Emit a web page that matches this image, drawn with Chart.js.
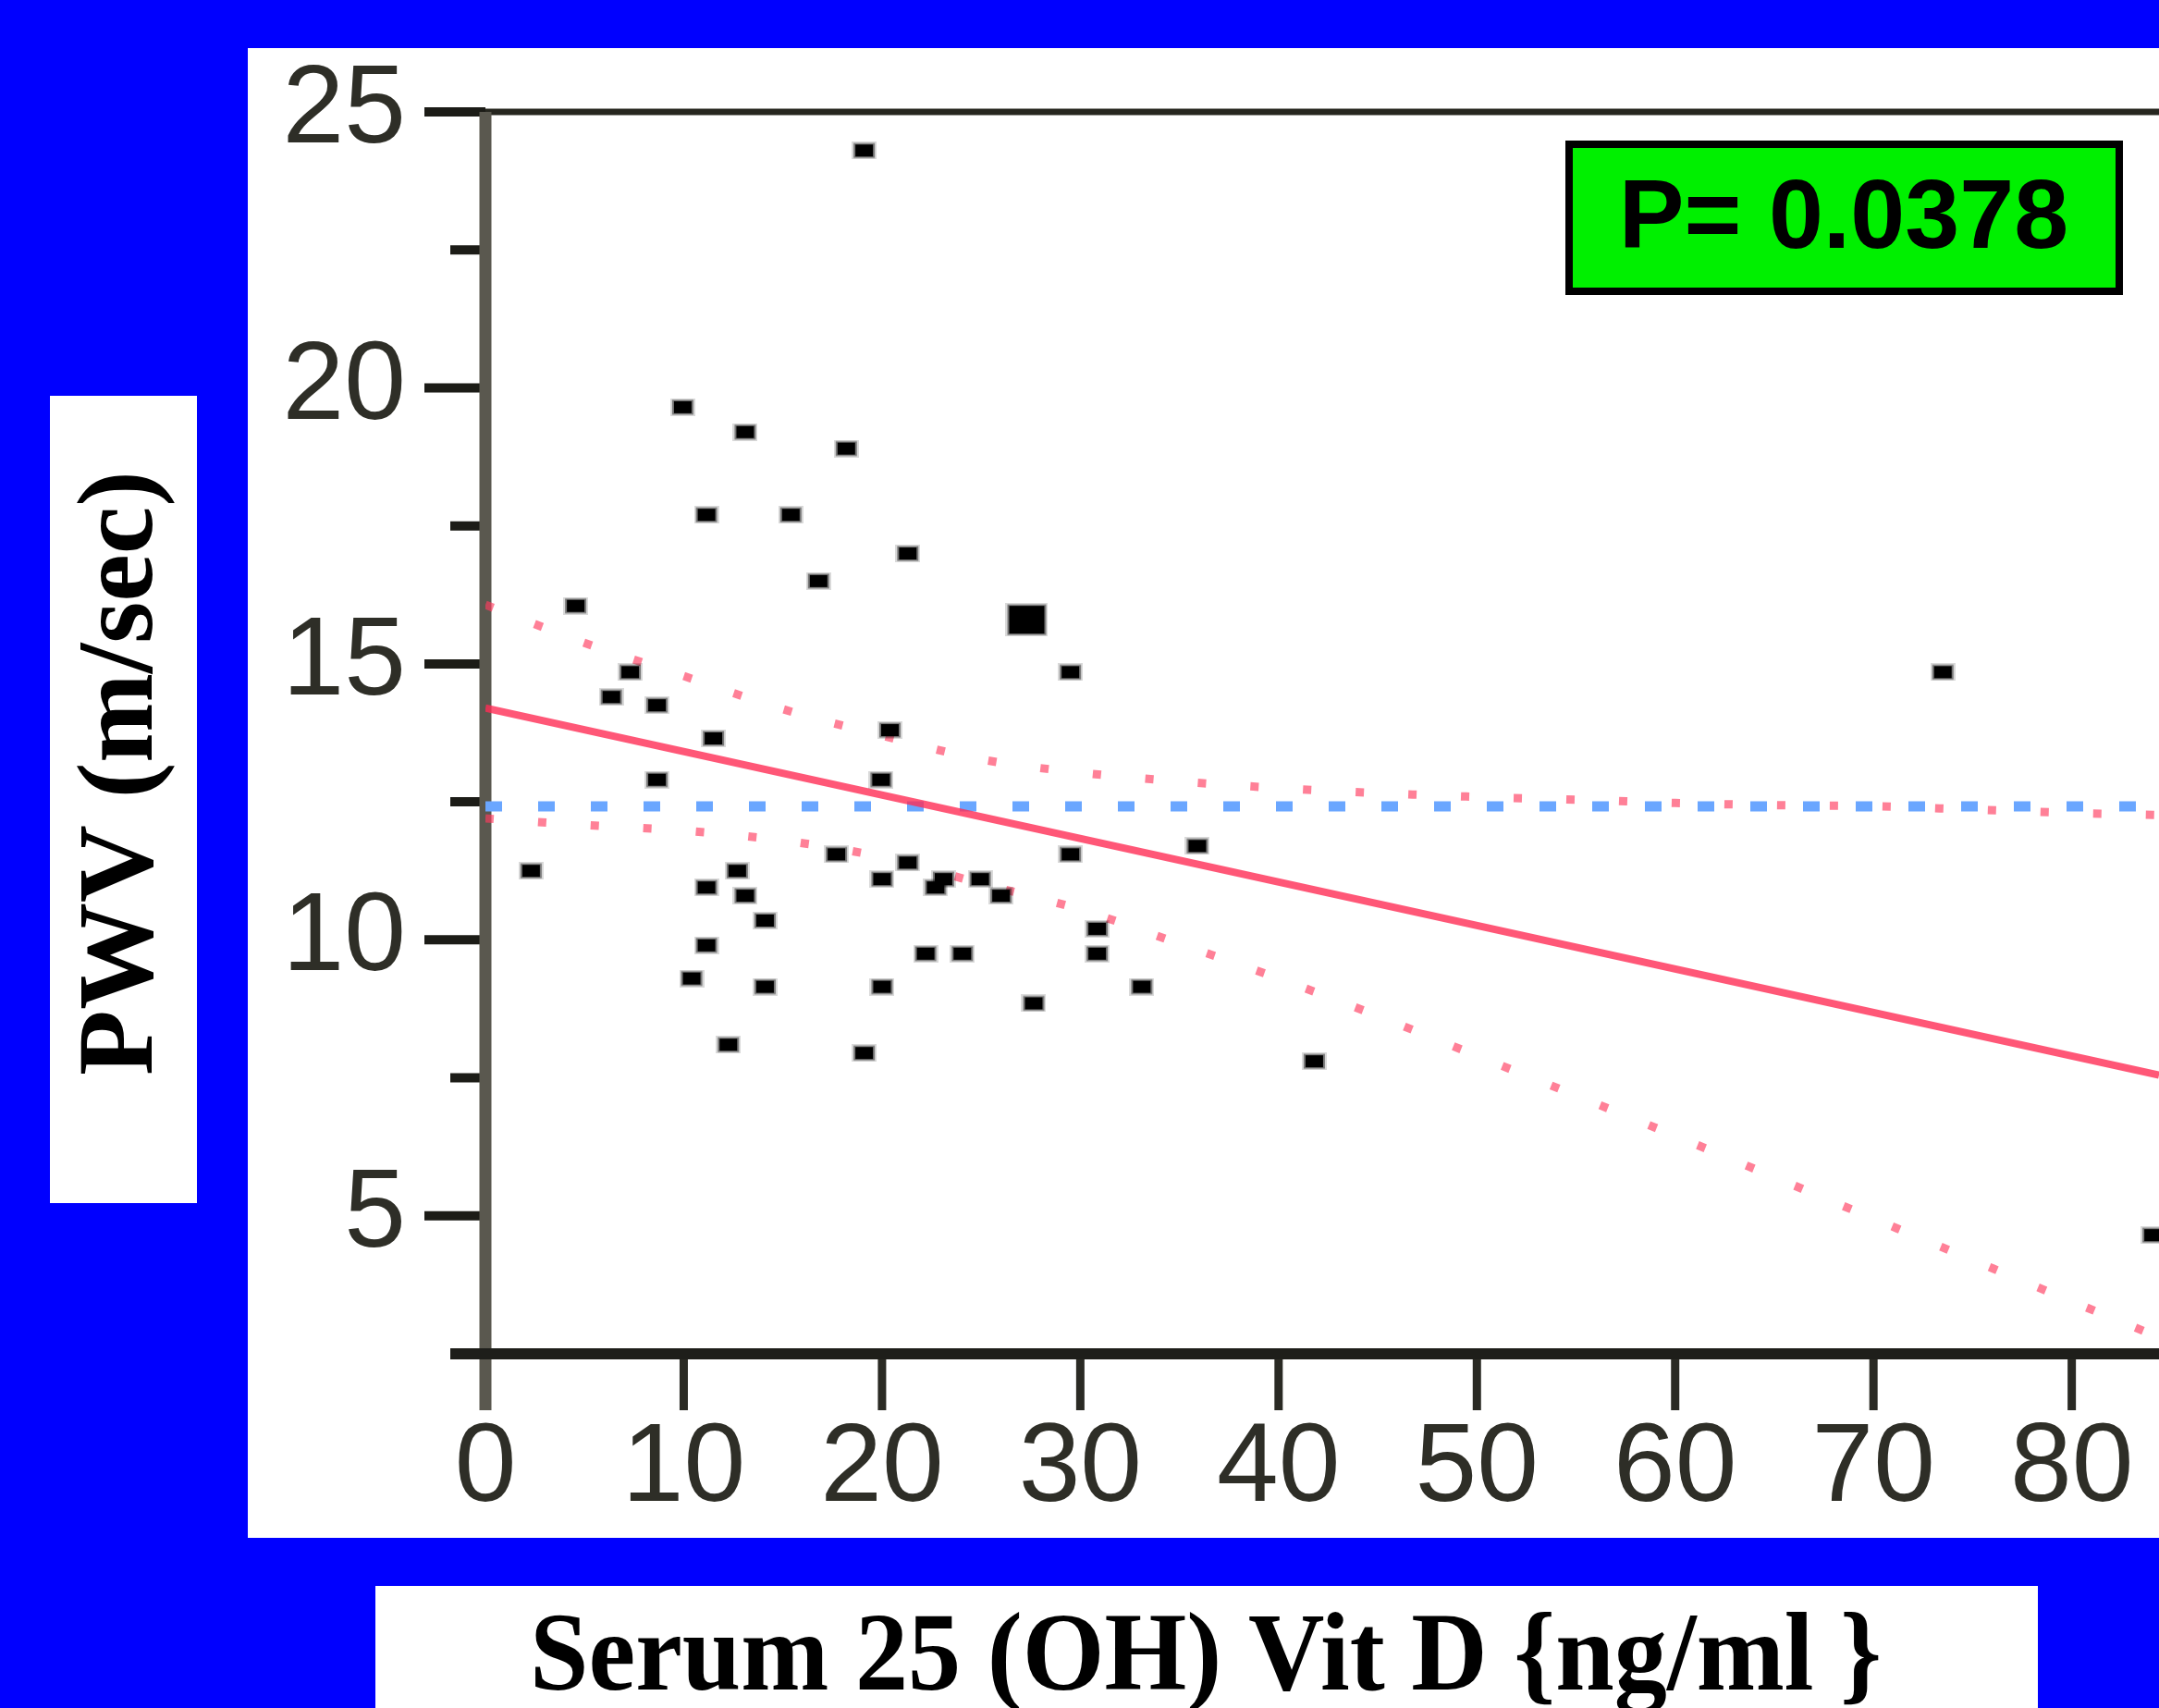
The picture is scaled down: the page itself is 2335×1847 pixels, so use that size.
<!DOCTYPE html>
<html lang="en">
<head>
<meta charset="UTF-8">
<title>PWV vs Serum 25 (OH) Vit D</title>
<script src="https://cdn.jsdelivr.net/npm/chart.js"></script>
<style>
  html, body { margin: 0; padding: 0; background: #0000ff; overflow: hidden; }
  #wrap { position: relative; width: 2335px; height: 1847px; }
</style>
</head>
<body>
<div id="wrap"><canvas id="pwvChart"></canvas></div>
<script>
  // values
  const vitD = [2.3, 4.55, 6.35, 7.3, 8.65, 8.65, 9.95, 10.4, 11.15, 11.15, 11.15, 11.5, 12.25, 12.7, 13.1,
                13.1, 14.1, 14.1, 15.4, 16.8, 17.7, 18.2, 19.1, 19.1, 19.95, 20.0, 20.0, 20.4, 21.3, 21.3,
                22.2, 22.7, 23.1, 24.05, 24.95, 26.0, 27.65, 29.5, 29.5, 30.85, 30.85, 33.1, 35.9, 41.8,
                73.5, 84.1];
  const pwv = [11.25, 16.05, 14.4, 14.85, 14.25, 12.9, 19.65, 9.3, 17.7, 10.95, 9.9, 13.65, 8.1, 11.25, 10.8,
               19.2, 10.35, 9.15, 17.7, 16.5, 11.55, 18.9, 24.3, 7.95, 12.9, 11.1, 9.15, 13.8, 17.0, 11.4,
               9.75, 10.95, 11.1, 9.75, 11.1, 10.8, 8.85, 14.85, 11.55, 10.2, 9.75, 9.15, 11.7, 7.8,
               14.85, 4.65];
  // the one larger marker (overlapping cases)
  const vitDBig = [27.3];
  const pwvBig = [15.8];

  // regression line and its confidence band
  const fitX = [0, 84.4];
  const fitY = [14.2, 7.55];
  const bandX = [0, 5, 10, 15, 20, 25, 30, 35, 40, 45, 50, 55, 60, 65, 70, 75, 80, 84.4];
  const bandUpper = [16.07, 15.38, 14.78, 14.18, 13.7, 13.27, 13.03, 12.87, 12.75, 12.66, 12.59, 12.54,
                     12.48, 12.44, 12.42, 12.36, 12.3, 12.26];
  const bandLower = [12.2, 12.08, 11.98, 11.8, 11.5, 11.02, 10.55, 9.93, 9.3, 8.62, 7.9, 7.18,
                     6.45, 5.7, 4.95, 4.2, 3.45, 2.8];
  const meanPwv = 12.42;

  // axes
  const xMin = 0, xMax = 84.4;
  const yMin = 2.5, yMax = 25;
  const xTickValues = [0, 10, 20, 30, 40, 50, 60, 70, 80];
  const yLabelled = [5, 10, 15, 20, 25];
  const yMinor = [2.5, 7.5, 12.5, 17.5, 22.5];

  const pText = 'P= 0.0378';
  const xTitle = 'Serum 25 (OH) Vit D {ng/ml }';
  const yTitle = 'PWV (m/sec)';

  function marker(w, h) {
    const c = document.createElement('canvas');
    c.width = w + 8; c.height = h + 6;
    const g = c.getContext('2d');
    g.fillStyle = 'rgba(0,0,0,0.15)';
    g.fillRect(0, 0, w + 8, h + 6);
    g.fillStyle = 'rgba(0,0,0,0.45)';
    g.fillRect(2, 1.5, w + 4, h + 3);
    g.fillStyle = '#000';
    g.fillRect(4, 3, w, h);
    return c;
  }
  const smallDot = marker(19, 13);
  const bigDot = marker(38, 30);

  const pairs = (xs, ys) => xs.map((x, i) => ({ x: x, y: ys[i] }));

  const frame = {
    id: 'frame',
    beforeDraw(chart) {
      const c = chart.ctx, W = chart.width, H = chart.height;
      c.save();
      c.fillStyle = '#0000ff';
      c.fillRect(0, 0, W, H);
      c.fillStyle = '#ffffff';
      c.fillRect(268, 52, W - 268, 1611);
      c.fillRect(54, 428, 159, 873);
      c.fillRect(406, 1715, 1798, H - 1715);

      c.fillStyle = '#000';
      c.textAlign = 'center';
      c.textBaseline = 'alphabetic';
      c.font = 'bold 116px "Liberation Serif"';
      c.save();
      c.translate(164, 836);
      c.rotate(-Math.PI / 2);
      c.fillText(yTitle, 0, 0);
      c.restore();

      c.font = 'bold 120px "Liberation Serif"';
      const w = c.measureText(xTitle).width;
      c.save();
      c.translate(1304, 1827);
      c.scale(1462 / w, 1);
      c.fillText(xTitle, 0, 0);
      c.restore();
      c.restore();
    },
    beforeDatasetsDraw(chart) {
      const c = chart.ctx, W = chart.width;
      const xs = chart.scales.x, ys = chart.scales.y;
      const x0 = xs.getPixelForValue(xMin);
      const yT = ys.getPixelForValue(yMax);
      const yB = ys.getPixelForValue(yMin);
      c.save();
      c.lineCap = 'butt';
      // top frame line
      c.strokeStyle = '#26261f';
      c.lineWidth = 7;
      c.beginPath(); c.moveTo(x0, yT); c.lineTo(W, yT); c.stroke();
      // y ticks
      c.strokeStyle = '#1c1c17';
      c.lineWidth = 10;
      yLabelled.concat(yMinor).forEach(v => {
        const len = yLabelled.includes(v) ? 66 : 38;
        const py = ys.getPixelForValue(v);
        c.beginPath(); c.moveTo(x0 - len, py); c.lineTo(x0, py); c.stroke();
      });
      // x ticks
      c.lineWidth = 9;
      c.strokeStyle = '#2a2a24';
      xTickValues.forEach(v => {
        const px = xs.getPixelForValue(v);
        c.beginPath(); c.moveTo(px, yB); c.lineTo(px, yB + 61); c.stroke();
      });
      // left axis
      c.strokeStyle = '#5a584f';
      c.lineWidth = 13;
      c.beginPath(); c.moveTo(x0, yT); c.lineTo(x0, yB + 61); c.stroke();
      // bottom axis
      c.strokeStyle = '#1e1e1a';
      c.lineWidth = 12;
      c.beginPath(); c.moveTo(x0 - 38, yB); c.lineTo(W, yB); c.stroke();
      c.restore();
    },
    afterDraw(chart) {
      const c = chart.ctx;
      c.save();
      c.fillStyle = '#00f000';
      c.fillRect(1693, 152, 603, 167);
      c.strokeStyle = '#000';
      c.lineWidth = 8;
      c.strokeRect(1697, 156, 595, 159);
      c.fillStyle = '#000';
      c.font = 'bold 106px "Liberation Sans"';
      c.textAlign = 'center';
      c.textBaseline = 'alphabetic';
      c.fillText(pText, 1994, 268);
      c.restore();
    }
  };

  const ctx = document.getElementById('pwvChart').getContext('2d');
  new Chart(ctx, {
    type: 'scatter',
    data: {
      datasets: [
        {
          label: 'PWV',
          data: pairs(vitD, pwv),
          pointStyle: smallDot,
          pointRadius: 10,
          order: 0
        },
        {
          label: 'PWV (overlap)',
          data: pairs(vitDBig, pwvBig),
          pointStyle: bigDot,
          pointRadius: 18,
          order: 0
        },
        {
          label: 'Fit',
          data: pairs(fitX, fitY),
          showLine: true,
          borderColor: 'rgba(255,45,85,0.8)',
          borderWidth: 8,
          pointRadius: 0,
          order: 2
        },
        {
          label: 'Upper 95%',
          data: pairs(bandX, bandUpper),
          showLine: true,
          cubicInterpolationMode: 'monotone',
          borderColor: 'rgba(255,60,95,0.65)',
          borderWidth: 9,
          borderDash: [9, 48],
          pointRadius: 0,
          order: 2
        },
        {
          label: 'Lower 95%',
          data: pairs(bandX, bandLower),
          showLine: true,
          cubicInterpolationMode: 'monotone',
          borderColor: 'rgba(255,60,95,0.65)',
          borderWidth: 9,
          borderDash: [9, 48],
          pointRadius: 0,
          order: 2
        },
        {
          label: 'Mean',
          data: pairs([xMin, xMax], [meanPwv, meanPwv]),
          showLine: true,
          borderColor: '#6aa6ff',
          borderWidth: 11,
          borderDash: [18, 39],
          pointRadius: 0,
          order: 3
        }
      ]
    },
    options: {
      responsive: true,
      maintainAspectRatio: false,
      animation: false,
      events: [],
      layout: { autoPadding: false, padding: { left: 0, right: 0, top: 121, bottom: 0 } },
      plugins: {
        legend: { display: false },
        tooltip: { enabled: false }
      },
      scales: {
        x: {
          type: 'linear',
          min: xMin,
          max: xMax,
          afterBuildTicks: s => { s.ticks = xTickValues.map(v => ({ value: v })); },
          afterFit: s => { s.height = 383; s.paddingLeft = 0; s.paddingRight = 0; },
          grid: { display: false, drawTicks: true, tickLength: 48 },
          border: { display: false },
          ticks: {
            autoSkip: false,
            maxRotation: 0,
            padding: 6,
            color: '#2e2e27',
            font: { family: 'Liberation Sans', size: 120 }
          }
        },
        y: {
          type: 'linear',
          min: yMin,
          max: yMax,
          afterBuildTicks: s => { s.ticks = yLabelled.map(v => ({ value: v })); },
          afterFit: s => { s.width = 525; s.paddingTop = 0; s.paddingBottom = 0; },
          grid: { display: false, drawTicks: true, tickLength: 80 },
          border: { display: false },
          ticks: {
            autoSkip: false,
            padding: 6,
            color: '#2e2e27',
            font: { family: 'Liberation Sans', size: 120 }
          }
        }
      }
    },
    plugins: [frame]
  });
</script>
</body>
</html>
